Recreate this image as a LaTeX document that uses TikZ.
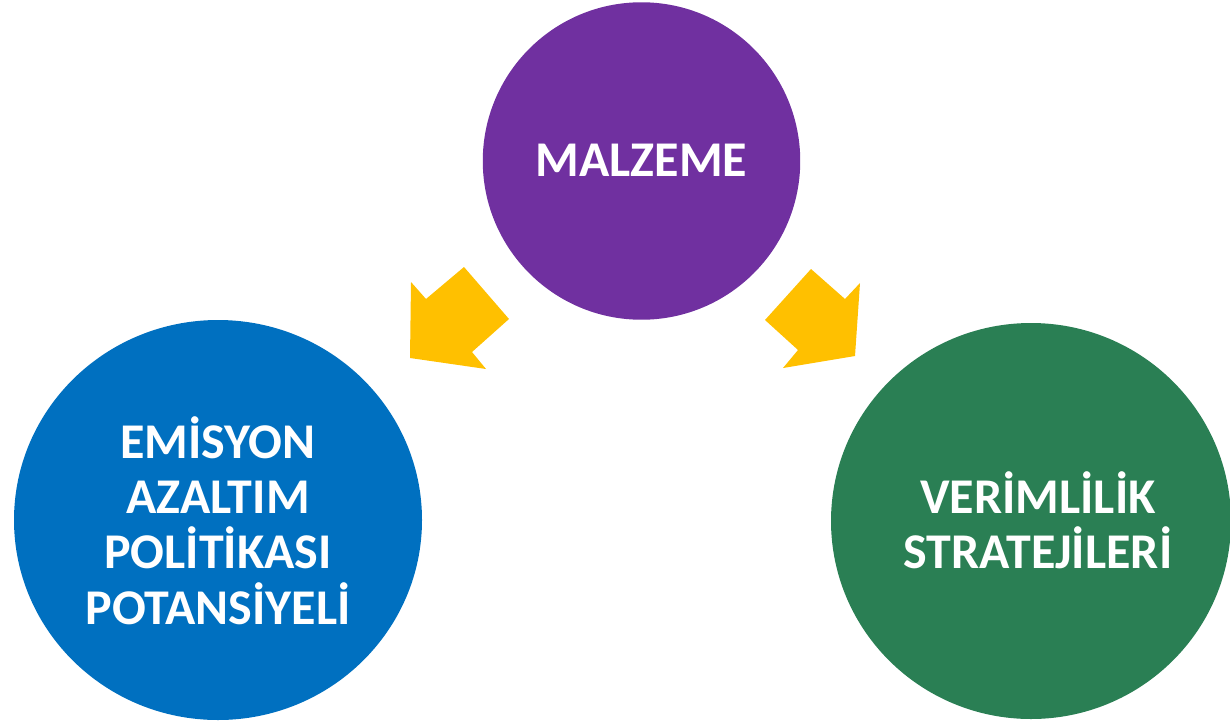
\documentclass[tikz,border=0pt]{standalone}
\usepackage{fontspec}
\setmainfont{Carlito}
\usetikzlibrary{shapes.geometric}
\definecolor{cpurple}{RGB}{112,48,160}
\definecolor{cblue}{RGB}{0,112,192}
\definecolor{cgreen}{RGB}{42,127,84}
\definecolor{cyellow}{RGB}{255,192,0}
\tikzset{
  bubble/.style={ellipse, inner sep=0pt, outer sep=0pt, draw=none},
  lbl/.style={text=white, font=\bfseries\fontsize{37.5pt}{41.5pt}\selectfont, align=center},
  blockarrow/.style={fill=cyellow, draw=none}
}
\begin{document}
\begin{tikzpicture}[x=0.75pt,y=-0.75pt]
\useasboundingbox (0,0) rectangle (1230,721);
\clip (0,0) rectangle (1230,721);
% circles
\node[bubble, fill=cpurple, minimum width=238.1pt, minimum height=238.1pt] (mal) at (641.5,161) {};
\node[bubble, fill=cblue, minimum width=306pt, minimum height=300pt] (emi) at (218,520) {};
\node[bubble, fill=cgreen, minimum width=300pt, minimum height=297pt] (ver) at (1031,521) {};
% labels
\node[lbl] (tmal) at (641.5,160) {MALZEME};
\node[lbl] (temi) at (218,520.5) {EMİSYON\\AZALTIM\\POLİTİKASI\\POTANSİYELİ};
\node[lbl] (tver) at (1038,520.5) {VERİMLİLİK\\STRATEJİLERİ};
% block arrows
\fill[blockarrow] (411,282) -- (426,299) -- (464,267) -- (509,319) -- (472,352) -- (486,369) -- (410,358) -- cycle;
\fill[blockarrow] (860,283) -- (845,299) -- (811,269) -- (765,320) -- (798,350) -- (783,368) -- (855,356) -- cycle;
\end{tikzpicture}
\end{document}
